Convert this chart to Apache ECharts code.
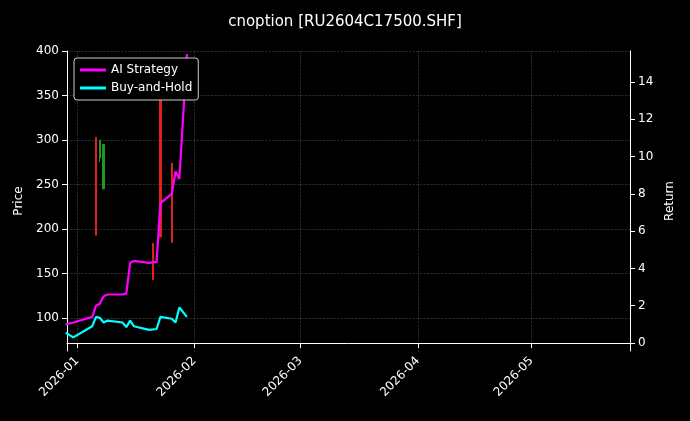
<!DOCTYPE html>
<html>
<head>
<meta charset="utf-8">
<script src="https://cdn.jsdelivr.net/npm/echarts@6/dist/echarts.min.js"></script>
<style>html,body{margin:0;background:#000}#c{width:690px;height:421px}</style>
</head>
<body>
<div id="c"></div>
<script>
const dates = ['2025-12-29','2025-12-31','2026-01-05','2026-01-06','2026-01-07','2026-01-08','2026-01-09','2026-01-13','2026-01-14','2026-01-15','2026-01-16','2026-01-20','2026-01-22','2026-01-23','2026-01-26','2026-01-27','2026-01-28','2026-01-30']
const aiStrategy = [1.0, 1.1, 1.4, 2.0, 2.1, 2.5, 2.6, 2.6, 2.65, 4.3, 4.4, 4.3, 4.35, 7.5, 8.0, 9.2, 8.8, 15.5]
const buyHold = [0.55, 0.3, 0.9, 1.4, 1.35, 1.1, 1.2, 1.1, 0.85, 1.2, 0.9, 0.7, 0.75, 1.4, 1.3, 1.1, 1.9, 1.4]

// candles: date, open, close, low, high
const candleDates = ['2026-01-06', '2026-01-07', '2026-01-08', '2026-01-21', '2026-01-23', '2026-01-26']
const candleOHLC = [
  [193, 303, 193, 303],
  [300, 280, 275, 300],
  [295, 245, 245, 295],
  [143, 184, 143, 184],
  [191, 345, 191, 345],
  [185, 274, 185, 274]
]

const priceTicks = [100, 150, 200, 250, 300, 350, 400]
const returnTicks = [0, 2, 4, 6, 8, 10, 12, 14]

const chart = echarts.init(document.getElementById('c'))
const gridLine = { show: true, lineStyle: { color: '#444', type: 'dashed', width: 0.6 } }
const font = { color: '#fff', fontSize: 12, fontFamily: 'DejaVu Sans' }
chart.setOption({
  backgroundColor: '#000',
  animation: false,
  title: { text: 'cnoption [RU2604C17500.SHF]', left: 'center', top: 10,
    textStyle: { color: '#fff', fontSize: 15, fontWeight: 'normal', fontFamily: 'DejaVu Sans' } },
  legend: {
    left: 74, top: 58, orient: 'vertical', itemGap: 6,
    backgroundColor: '#000', borderColor: '#ccc', borderWidth: 1, borderRadius: 3, padding: [6, 6],
    textStyle: font, itemWidth: 26, itemHeight: 3,
    data: [{ name: 'AI Strategy', icon: 'rect' }, { name: 'Buy-and-Hold', icon: 'rect' }]
  },
  grid: { left: 67, right: 60, top: 51, bottom: 70 },
  xAxis: {
    type: 'time', min: '2025-12-29 08:00', max: '2026-05-27',
    axisLine: { lineStyle: { color: '#fff' } },
    axisTick: { lineStyle: { color: '#fff' } },
    axisLabel: Object.assign({ rotate: 45,
      formatter: v => { const d = new Date(v); return d.getDate() === 1 ? d.getFullYear() + '-' + String(d.getMonth() + 1).padStart(2, '0') : '' } }, font),
    splitLine: gridLine
  },
  yAxis: [
    { type: 'value', min: 63, max: 400, name: 'Price', nameLocation: 'middle', nameGap: 42,
      nameTextStyle: font,
      axisLine: { show: true, lineStyle: { color: '#fff' } },
      axisTick: { show: true, customValues: priceTicks },
      axisLabel: Object.assign({ customValues: priceTicks }, font),
      splitLine: gridLine },
    { type: 'value', min: -0.43, max: 15.66, name: 'Return', nameLocation: 'middle', nameGap: 34,
      nameTextStyle: font,
      axisLine: { show: true, lineStyle: { color: '#fff' } },
      axisTick: { show: true, customValues: returnTicks },
      axisLabel: Object.assign({ customValues: returnTicks }, font),
      splitLine: { show: false } }
  ],
  series: [
    { type: 'candlestick', yAxisIndex: 0, barWidth: 2,
      itemStyle: { color: '#e0201a', color0: '#1f9a1f', borderColor: '#e0201a', borderColor0: '#1f9a1f', borderWidth: 1 },
      data: candleDates.map((d, i) => [d].concat(candleOHLC[i])) },
    { name: 'AI Strategy', type: 'line', yAxisIndex: 1, showSymbol: false,
      lineStyle: { color: '#ff00ff', width: 2.2 }, itemStyle: { color: '#ff00ff' },
      data: dates.map((d, i) => [d, aiStrategy[i]]) },
    { name: 'Buy-and-Hold', type: 'line', yAxisIndex: 1, showSymbol: false,
      lineStyle: { color: '#00ffff', width: 2.2 }, itemStyle: { color: '#00ffff' },
      data: dates.map((d, i) => [d, buyHold[i]]) }
  ]
})
</script>
</body>
</html>
